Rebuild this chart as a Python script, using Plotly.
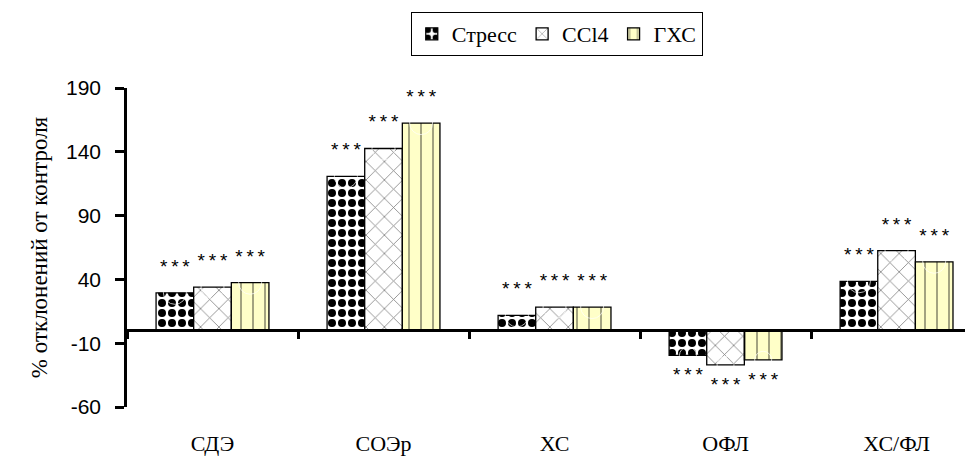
import plotly.graph_objects as go

categories = ["СДЭ", "СОЭр", "ХС", "ОФЛ", "ХС/ФЛ"]
series_names = ["Стресс", "CCl4", "ГХС"]
stress = [29.5, 120.7, 11.8, -19.6, 38.5]
ccl4 = [34.0, 142.6, 18.3, -27.0, 62.5]
ghs = [37.4, 162.5, 18.3, -23.0, 53.8]
signif = [["***"] * 5, ["***"] * 5, ["***"] * 5]
y_ticks = [-60, -10, 40, 90, 140, 190]
y_tick_labels = ["-60", "-10", "40", "90", "140", "190"]
y_title = "% отклонений от контроля"

SERIF = "Liberation Serif, Times New Roman, serif"
SANS = "Liberation Sans, Arial, sans-serif"

patterns = [
    dict(shape=".", fgcolor="#000000", bgcolor="#FFFFFF", size=10, solidity=0.5, fgopacity=1),
    dict(shape="x", fgcolor="black", bgcolor="white", size=13, solidity=0.12),
    dict(shape="|", fgcolor="black", bgcolor="#FFFFC8", size=12, solidity=0.12),
]
fills = ["white", "white", "#FFFFC8"]

fig = go.Figure()
values = [stress, ccl4, ghs]
for name, vals, pat, fc in zip(series_names, values, patterns, fills):
    fig.add_trace(go.Bar(
        x=categories, y=vals, name=name,
        marker=dict(color=fc, pattern=pat, line=dict(color="black", width=1.3)),
    ))

for vals, stars in zip(values, signif):
    fig.add_trace(go.Scatter(
        x=categories, y=vals, mode="markers+text",
        text=["\u2009".join(s) for s in stars],
        textposition=["top center" if v >= 0 else "bottom center" for v in vals],
        textfont=dict(family=SANS, size=19, color="black"),
        marker=dict(size=[23 if v >= 0 else 17 for v in vals], color="rgba(0,0,0,0)"),
        showlegend=False, hoverinfo="skip",
    ))

# page body has an 8px margin, so the figure is sized to fit inside it
fig.update_layout(
    width=965, height=448,
    margin=dict(l=119, r=0, t=80, b=49, autoexpand=False),
    paper_bgcolor="white", plot_bgcolor="white",
    barmode="group", bargap=0.34, bargroupgap=0,
    scattermode="group", scattergap=0.34,
    showlegend=True,
    legend=dict(
        orientation="h", xref="paper", x=0.508, xanchor="center",
        yref="container", y=1 - 4 / 448, yanchor="top",
        font=dict(family=SERIF, size=22, color="black"),
        bordercolor="black", borderwidth=1, bgcolor="white",
        traceorder="normal",
    ),
    xaxis=dict(
        type="category", range=[-0.5, 4.447], automargin=False,
        anchor="free", position=0.24,
        showline=True, linecolor="black", linewidth=2.5,
        ticks="outside", tickson="boundaries", ticklen=7, tickwidth=2.5, tickcolor="black",
        ticklabelstandoff=92,
        tickfont=dict(family=SERIF, size=22, color="black"),
        showgrid=False, zeroline=False,
    ),
    yaxis=dict(
        range=[-60, 190], tickmode="array", tickvals=y_ticks, ticktext=y_tick_labels,
        automargin=False,
        showline=True, linecolor="black", linewidth=2.5,
        ticks="outside", ticklen=9, tickwidth=2.5, tickcolor="black",
        ticklabelstandoff=10,
        tickfont=dict(family=SANS, size=21, color="black"),
        showgrid=False, zeroline=False,
        title=dict(text=y_title, font=dict(family=SERIF, size=23, color="black"), standoff=12),
    ),
)

fig.write_html("out.html")
